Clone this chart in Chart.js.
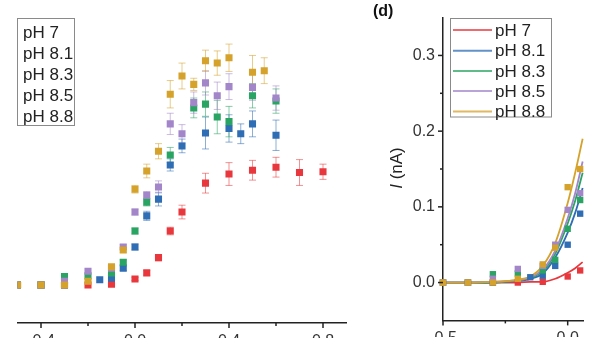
<!DOCTYPE html>
<html><head><meta charset="utf-8">
<script src="https://cdn.jsdelivr.net/npm/chart.js@4.4.0/dist/chart.umd.min.js"></script>
<style>
html,body{margin:0;padding:0;background:#fff;}
#wrap{position:relative;width:600px;height:338px;overflow:hidden;background:#fff;font-family:"Liberation Sans",Arial,sans-serif;}
#cL{position:absolute;left:0;top:0;}
#rclip{position:absolute;left:372px;top:0;width:212px;height:338px;overflow:hidden;}
#cR{position:absolute;left:0;top:0;}
#tagd{position:absolute;left:373px;top:3px;font-weight:bold;font-size:16px;line-height:1;color:#111;}
#ylab{position:absolute;left:396px;top:168px;transform:translate(-50%,-50%) rotate(-90deg);font-size:17px;line-height:1;white-space:nowrap;color:#222;}
</style></head>
<body><div id="wrap">
<canvas id="cL" width="372" height="338"></canvas>
<div id="rclip"><canvas id="cR" width="340" height="338"></canvas></div>
<div id="tagd">(d)</div>
<div id="ylab"><i>I</i> (nA)</div>
</div>
<script>
// ---- data ----
const labels = ['pH 7','pH 8.1','pH 8.3','pH 8.5','pH 8.8'];
const colors = ['#e8383d','#2f6db5','#2aa462','#a385c9','#d5a22c'];

const xRed = [-0.5,-0.4,-0.3,-0.2,-0.1,0,0.05,0.1,0.15,0.2,0.3,0.4,0.5,0.6,0.7,0.8];
const yRed = [0,0,0,0,0.001,0.008,0.016,0.036,0.071,0.096,0.134,0.146,0.151,0.155,0.148,0.149];
const eRed = [0,0,0,0,0,0.002,0.003,0.004,0.005,0.009,0.013,0.015,0.013,0.013,0.017,0.010];

const xBlue = [-0.5,-0.4,-0.3,-0.15,-0.1,-0.05,0,0.05,0.1,0.15,0.2,0.3,0.4,0.45,0.5,0.6];
const yBlue = [0,0,0,0.007,0.009,0.022,0.050,0.091,0.113,0.158,0.183,0.200,0.206,0.199,0.212,0.197];
const eBlue = [0,0,0,0,0.002,0.003,0.004,0.006,0.009,0.008,0.009,0.021,0.018,0.013,0.017,0.020];

const xGreen = [-0.5,-0.4,-0.3,-0.2,-0.1,-0.05,0,0.05,0.15,0.25,0.3,0.35,0.4,0.5,0.6];
const yGreen = [0,0,0.011,0.012,0.016,0.030,0.071,0.109,0.171,0.233,0.238,0.221,0.215,0.249,0.242];
const eGreen = [0,0,0,0,0.002,0.003,0.004,0.005,0.010,0.013,0.016,0.022,0.020,0.016,0.016];

const xPurple = [-0.5,-0.4,-0.3,-0.2,-0.1,-0.05,0,0.05,0.1,0.15,0.2,0.25,0.3,0.35,0.4,0.5,0.6];
const yPurple = [0,0,0.005,0.018,0.022,0.050,0.096,0.118,0.129,0.212,0.199,0.240,0.266,0.249,0.261,0.260,0.246];
const ePurple = [0,0,0,0,0.002,0.003,0.004,0.005,0.008,0.014,0.012,0.014,0.016,0.018,0.017,0.017,0.016];

const xGold = [-0.5,-0.4,-0.3,-0.2,-0.1,-0.05,0,0.05,0.1,0.15,0.2,0.25,0.3,0.35,0.4,0.5,0.55];
const yGold = [0,0,0,0.005,0.024,0.046,0.126,0.150,0.176,0.251,0.275,0.264,0.295,0.292,0.299,0.280,0.282];
const eGold = [0,0,0,0,0.002,0.003,0.005,0.009,0.010,0.018,0.017,0.008,0.014,0.016,0.018,0.022,0.017];

// fitted curves (panel d)
const fitX = [-0.5,-0.4,-0.3,-0.25,-0.2,-0.15,-0.1,-0.05,0,0.03,0.06];
const fitRed    = [0,0,0,0,0,0.001,0.001,0.005,0.013,0.019,0.027];
const fitBlue   = [0,0,0,0.001,0.002,0.005,0.012,0.033,0.066,0.092,0.125];
const fitGreen  = [0,0,0,0.001,0.003,0.006,0.015,0.038,0.078,0.108,0.145];
const fitPurple = [0,0,0.001,0.002,0.003,0.007,0.017,0.042,0.085,0.118,0.160];
const fitGold   = [0,0,0.001,0.002,0.004,0.008,0.022,0.052,0.105,0.145,0.190];

// tick labels
const leftXTicks = [-0.4,-0.2,0,0.2,0.4,0.6,0.8];
const leftXMajor = [-0.4,0,0.4,0.8];
const rightXTicks = [-0.5,-0.25,0,0.25,0.5];
const rightXMajor = [-0.5,0,0.5];
const rightYTicks = [0,0.05,0.1,0.15,0.2,0.25,0.3];
const rightYMajor = [0,0.1,0.2,0.3];

// ---- build ----
const FONT = '"Liberation Sans", Arial, sans-serif';
const series = [
  {x:xRed,y:yRed,e:eRed},{x:xBlue,y:yBlue,e:eBlue},{x:xGreen,y:yGreen,e:eGreen},
  {x:xPurple,y:yPurple,e:ePurple},{x:xGold,y:yGold,e:eGold}];
const fits = [fitRed,fitBlue,fitGreen,fitPurple,fitGold];
const fmt = v => (Math.abs(v)<1e-9?0:v).toFixed(1);
const near = (a,v) => a.some(m=>Math.abs(m-v)<1e-9);

function rgba(hex,a){const n=parseInt(hex.slice(1),16);return `rgba(${n>>16&255},${n>>8&255},${n&255},${a})`;}

const errorBars = {
  id:'errorBars',
  beforeDatasetsDraw(chart){
    const o = chart.options.plugins.errorBars; if(!o || !o.enabled) return;
    const ctx = chart.ctx, ys = chart.scales.y;
    ctx.save();
    ctx.beginPath(); const a=chart.chartArea; ctx.rect(a.left,a.top,a.right-a.left,a.bottom-a.top); ctx.clip();
    chart.data.datasets.forEach((ds,i)=>{
      if(!ds.err) return;
      const meta = chart.getDatasetMeta(i);
      ctx.strokeStyle = rgba(ds.borderColor,0.55); ctx.lineWidth = 1;
      meta.data.forEach((pt,j)=>{
        const e = ds.err[j]; if(!e) return;
        const v = ds.data[j].y;
        const y1 = ys.getPixelForValue(v+e), y2 = ys.getPixelForValue(v-e);
        const x = pt.x;
        ctx.beginPath();
        ctx.moveTo(x,y1); ctx.lineTo(x,y2);
        ctx.moveTo(x-3.5,y1); ctx.lineTo(x+3.5,y1);
        ctx.moveTo(x-3.5,y2); ctx.lineTo(x+3.5,y2);
        ctx.stroke();
      });
    });
    ctx.restore();
  }
};

const tickMarks = {
  id:'tickMarks',
  afterDraw(chart){
    const ctx = chart.ctx; ctx.save(); ctx.strokeStyle='#222'; ctx.lineWidth=1.5;
    ['x','y'].forEach(id=>{
      const s = chart.scales[id]; if(!s || !s.options.display) return;
      s.ticks.forEach(t=>{
        const len = t.major?5:3; const p = s.getPixelForValue(t.value);
        ctx.beginPath();
        if(s.isHorizontal()){ctx.moveTo(p,s.top);ctx.lineTo(p,s.top+len);}
        else {ctx.moveTo(s.right,p);ctx.lineTo(s.right-len,p);}
        ctx.stroke();
      });
    });
    ctx.restore();
  }
};

const boxLegend = {
  id:'boxLegend',
  afterDraw(chart){
    const o = chart.options.plugins.boxLegend; if(!o) return;
    const ctx = chart.ctx; ctx.save();
    ctx.fillStyle='#fff'; ctx.fillRect(o.box[0],o.box[1],o.box[2],o.box[3]);
    ctx.strokeStyle='#8a8a8a'; ctx.lineWidth=1;
    ctx.strokeRect(o.box[0],o.box[1],o.box[2],o.box[3]);
    ctx.font = '17px '+FONT; ctx.textBaseline='middle'; ctx.textAlign='left';
    o.items.forEach((di,k)=>{
      const ds = chart.data.datasets[di]; const y = o.rows[k];
      if(o.line){
        ctx.strokeStyle = rgba(ds.borderColor,0.75); ctx.lineWidth=2;
        ctx.beginPath(); ctx.moveTo(o.line[0],y); ctx.lineTo(o.line[1],y); ctx.stroke();
      }
      ctx.fillStyle='#222'; ctx.fillText(ds.label,o.textX,y+1);
    });
    ctx.restore();
  }
};

const tickFont = {family:FONT,size:16};

// ---- left panel ----
new Chart(document.getElementById('cL'),{
  type:'scatter',
  data:{datasets: series.map((s,i)=>({
    label:labels[i],
    data:s.x.map((x,j)=>({x:x,y:s.y[j]})),
    err:s.e,
    backgroundColor:colors[i], borderColor:colors[i], borderWidth:0,
    pointStyle:'rect', pointRadius:5, pointHoverRadius:5,
    order:5-i
  }))},
  options:{
    responsive:false, animation:false, events:[],
    layout:{padding:{left:17.5,right:25.5,top:19,bottom:0}},
    scales:{
      x:{type:'linear',min:-0.5,max:0.9,
        afterBuildTicks:s=>{s.ticks=leftXTicks.map(v=>({value:v,major:near(leftXMajor,v)}));},
        afterFit:s=>{s.height=15;},
        grid:{display:false,drawTicks:false},
        border:{display:true,color:'#222',width:1.5},
        ticks:{autoSkip:false,maxRotation:0,padding:9,font:tickFont,color:'#333',
          callback:(v,i,t)=>t[i].major?fmt(v):''}},
      y:{type:'linear',display:false,min:-0.05,max:0.35}
    },
    plugins:{legend:{display:false},tooltip:{enabled:false},
      errorBars:{enabled:true},
      boxLegend:{box:[17.5,18.5,57,107],rows:[32,53,74,95,116],textX:23,line:null,items:[0,1,2,3,4]}}
  },
  plugins:[errorBars,tickMarks,boxLegend]
});

// ---- right panel ----
const rDatasets = [];
series.forEach((s,i)=>{
  rDatasets.push({label:labels[i],data:s.x.map((x,j)=>({x:x,y:s.y[j]})),
    backgroundColor:colors[i],borderColor:colors[i],borderWidth:0,
    pointStyle:'rect',pointRadius:4.5,pointHoverRadius:4.5,clip:false,order:5-i});
});
fits.forEach((f,i)=>{
  rDatasets.push({label:labels[i],data:fitX.map((x,j)=>({x:x,y:f[j]})),
    showLine:true,borderColor:colors[i],backgroundColor:colors[i],borderWidth:1.8,
    pointRadius:0,pointHoverRadius:0,cubicInterpolationMode:'monotone',fill:false,order:15-i});
});

new Chart(document.getElementById('cR'),{
  type:'scatter',
  data:{datasets:rDatasets},
  options:{
    responsive:false, animation:false, events:[],
    layout:{padding:{left:0,right:15,top:17.5,bottom:0}},
    scales:{
      x:{type:'linear',min:-0.5,max:0.5,
        afterBuildTicks:s=>{s.ticks=rightXTicks.map(v=>({value:v,major:near(rightXMajor,v)}));},
        afterFit:s=>{s.height=16.5;},
        grid:{display:false,drawTicks:false},
        border:{display:true,color:'#222',width:1.5},
        ticks:{autoSkip:false,maxRotation:0,padding:8.5,font:tickFont,color:'#333',
          callback:(v,i,t)=>t[i].major?fmt(v):''}},
      y:{type:'linear',min:-0.05,max:0.35,
        afterBuildTicks:s=>{s.ticks=rightYTicks.map(v=>({value:v,major:near(rightYMajor,v)}));},
        afterFit:s=>{s.width=71;},
        grid:{display:false,drawTicks:false},
        border:{display:true,color:'#222',width:1.5},
        ticks:{autoSkip:false,padding:8,font:tickFont,color:'#333',
          callback:(v,i,t)=>t[i].major?fmt(v):''}}
    },
    plugins:{legend:{display:false},tooltip:{enabled:false},
      boxLegend:{box:[78.5,18.5,101,98.5],rows:[30,50.7,71,91,111.5],textX:123,line:[81,120],items:[5,6,7,8,9]}}
  },
  plugins:[tickMarks,boxLegend]
});
</script>
</body></html>
